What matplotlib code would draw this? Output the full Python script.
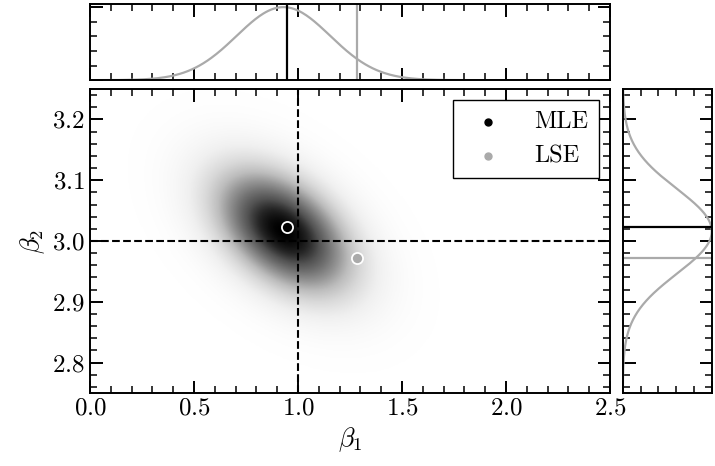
import numpy as np
import matplotlib
matplotlib.use("Agg")
import matplotlib.pyplot as plt
from matplotlib.ticker import MultipleLocator, NullFormatter

plt.rcParams['font.family'] = 'cmr10'
plt.rcParams['mathtext.fontset'] = 'cm'
plt.rcParams['axes.formatter.use_mathtext'] = True

# estimates
mle = [0.946, 3.0235]
lse = [1.282, 2.9715]
truth = [1.0, 3.0]

# posterior summary (mean, sd, correlation) for beta1 / beta2
post_mean = [0.93, 3.016]
post_sd = [0.225, 0.07]
post_rho = -0.45

xlim = [0.0, 2.5]
ylim = [2.75, 3.25]

GRAY = '#aaaaaa'


def style_ticks(ax, xmaj, xmin, ymaj, ymin):
    ax.xaxis.set_major_locator(MultipleLocator(xmaj))
    ax.xaxis.set_minor_locator(MultipleLocator(xmin))
    ax.yaxis.set_major_locator(MultipleLocator(ymaj))
    ax.yaxis.set_minor_locator(MultipleLocator(ymin))
    ax.tick_params(which='both', direction='in', top=True, right=True, labelsize=18)
    ax.tick_params(which='major', length=9, width=1.4)
    ax.tick_params(which='minor', length=5, width=1.1)
    for s in ax.spines.values():
        s.set_linewidth(1.4)


def main():
    fig = plt.figure(figsize=(7.15, 4.66), dpi=100)
    ax = fig.add_axes([0.1259, 0.1567, 0.7272, 0.6523])
    axt = fig.add_axes([0.1259, 0.828, 0.7272, 0.163])
    axr = fig.add_axes([0.871, 0.1567, 0.1245, 0.6523])

    # 2d density
    x = np.linspace(xlim[0], xlim[1], 500)
    y = np.linspace(ylim[0], ylim[1], 400)
    X, Y = np.meshgrid(x, y)
    zx = (X - post_mean[0]) / post_sd[0]
    zy = (Y - post_mean[1]) / post_sd[1]
    Z = np.exp(-(zx**2 - 2 * post_rho * zx * zy + zy**2) / (2 * (1 - post_rho**2)))
    ax.imshow(Z, extent=xlim + ylim, origin='lower', aspect='auto', cmap='Greys',
              vmin=0, vmax=Z.max(), interpolation='bilinear')

    ax.axvline(truth[0], color='k', ls='--', lw=1.5)
    ax.axhline(truth[1], color='k', ls='--', lw=1.5)
    ax.plot(*mle, 'o', color='k', mec='white', mew=1.3, ms=8, zorder=5)
    ax.plot(*lse, 'o', color=GRAY, mec='white', mew=1.3, ms=8, zorder=5)

    ax.scatter([], [], color='k', s=25, label='MLE')
    ax.scatter([], [], color=GRAY, s=25, label='LSE')
    leg = ax.legend(loc='upper right', fontsize=17.5, fancybox=False, framealpha=1,
                    edgecolor='k', borderpad=0.45, handletextpad=0.9, borderaxespad=0.45)
    leg.get_frame().set_linewidth(1.0)

    ax.set_xlim(xlim)
    ax.set_ylim(ylim)
    style_ticks(ax, 0.5, 0.1, 0.1, 0.02)
    ax.set_xlabel(r'$\beta_1$', fontsize=19)
    ax.set_ylabel(r'$\beta_2$', fontsize=19)

    # top marginal
    xt = np.linspace(xlim[0], xlim[1], 400)
    axt.plot(xt, np.exp(-0.5 * ((xt - post_mean[0]) / post_sd[0])**2), color=GRAY, lw=1.6)
    axt.axvline(mle[0], color='k', lw=1.6)
    axt.axvline(lse[0], color=GRAY, lw=1.6)
    axt.set_xlim(xlim)
    axt.set_ylim(0, 1.04)
    style_ticks(axt, 0.5, 0.1, 1.0, 0.2)
    axt.xaxis.set_major_formatter(NullFormatter())
    axt.yaxis.set_major_formatter(NullFormatter())

    # right marginal
    yr = np.linspace(ylim[0], ylim[1], 400)
    axr.plot(np.exp(-0.5 * ((yr - post_mean[1]) / post_sd[1])**2), yr, color=GRAY, lw=1.6)
    axr.axhline(mle[1], color='k', lw=1.6)
    axr.axhline(lse[1], color=GRAY, lw=1.6)
    axr.set_ylim(ylim)
    axr.set_xlim(0, 1.0)
    style_ticks(axr, 1.0, 0.2, 0.1, 0.02)
    axr.xaxis.set_major_formatter(NullFormatter())
    axr.yaxis.set_major_formatter(NullFormatter())

    fig.savefig('out.png', dpi=100)


if __name__ == "__main__":
    main()
